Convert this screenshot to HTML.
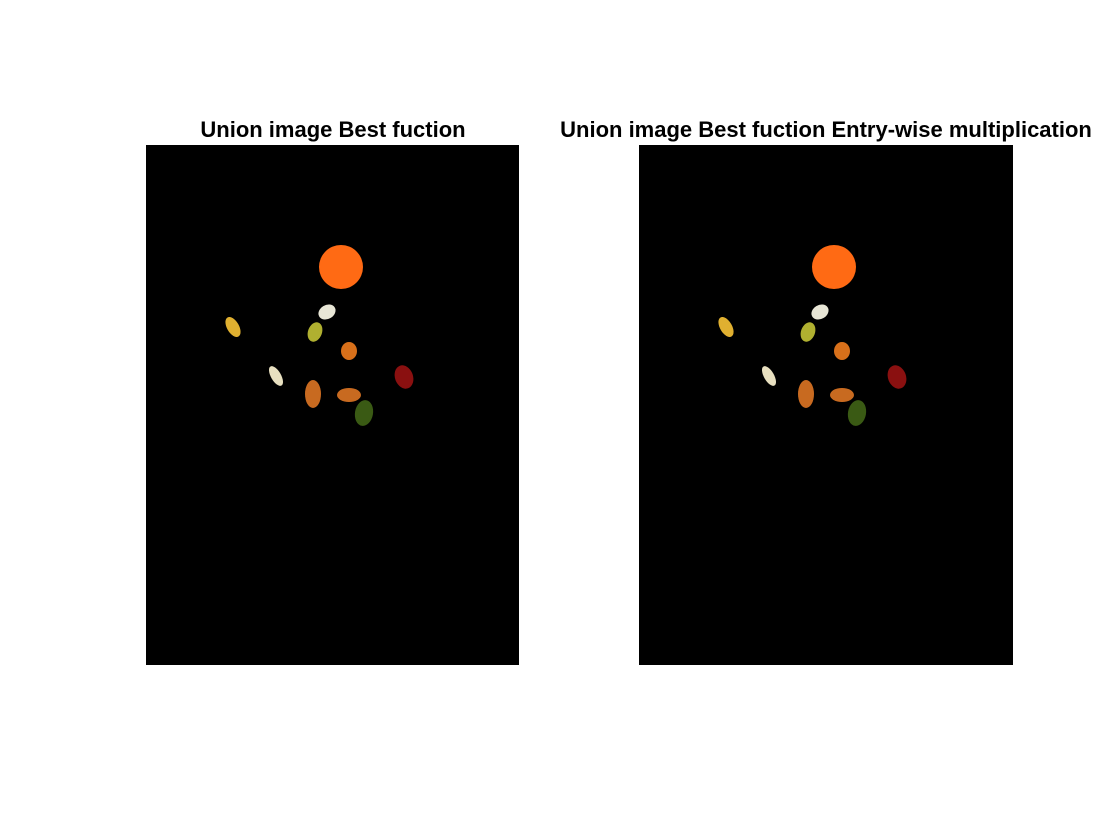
<!DOCTYPE html>
<html><head><meta charset="utf-8"><style>
html,body{margin:0;padding:0;background:#fff;}
svg{display:block;}
text{font-family:"Liberation Sans",Arial,sans-serif;font-weight:bold;font-size:22px;fill:#000;}
</style></head><body>
<svg id="fig" width="1120" height="840" viewBox="0 0 1120 840">
<rect width="1120" height="840" fill="#fff"/>
<g id="p1">
<rect x="146" y="145" width="373" height="520" fill="#000"/>
<text x="333" y="137" text-anchor="middle">Union image Best fuction</text>
</g>
<g id="p2">
<rect x="639" y="145" width="374" height="520" fill="#000"/>
<text x="826" y="137" text-anchor="middle">Union image Best fuction Entry-wise multiplication</text>
</g>
</svg>
<script>
// object positions in image-pixel coordinates (relative to image top-left)
const objX = [195, 181, 87, 169, 203, 130, 258, 167, 203, 218];
const objY = [122, 167, 182, 187, 206, 231, 232, 249, 250, 268];
const objRX = [22, 9, 6, 7, 8, 5, 9, 8, 12, 9];
const objRY = [22, 7, 11, 10, 9, 11, 12, 14, 7, 13];
const objRot = [0, -30, -30, 20, 0, -30, -20, 0, 0, 10];
const objColor = ['#ff6a14','#e8e6d6','#e0b030','#b0b030','#d8701a','#e8e0c0','#8a1010','#c86a20','#c86a20','#3a5a14'];
const objName = ['orange-circle','white-bean','yellow-bean','yellow-green-bean','orange-bean','white-bean-2','red-bean','orange-bean-2','orange-bean-3','green-bean'];
const panelX = [146, 639];
const panelY = [145, 145];
const NS = 'http://www.w3.org/2000/svg';
['p1','p2'].forEach((id, p) => {
  const g = document.getElementById(id);
  for (let i = 0; i < objX.length; i++) {
    const e = document.createElementNS(NS, 'ellipse');
    const cx = panelX[p] + objX[i], cy = panelY[p] + objY[i];
    e.setAttribute('cx', cx);
    e.setAttribute('cy', cy);
    e.setAttribute('rx', objRX[i]);
    e.setAttribute('ry', objRY[i]);
    e.setAttribute('fill', objColor[i]);
    e.setAttribute('transform', 'rotate(' + objRot[i] + ' ' + cx + ' ' + cy + ')');
    
    
    g.appendChild(e);
  }
});
</script>
</body></html>
